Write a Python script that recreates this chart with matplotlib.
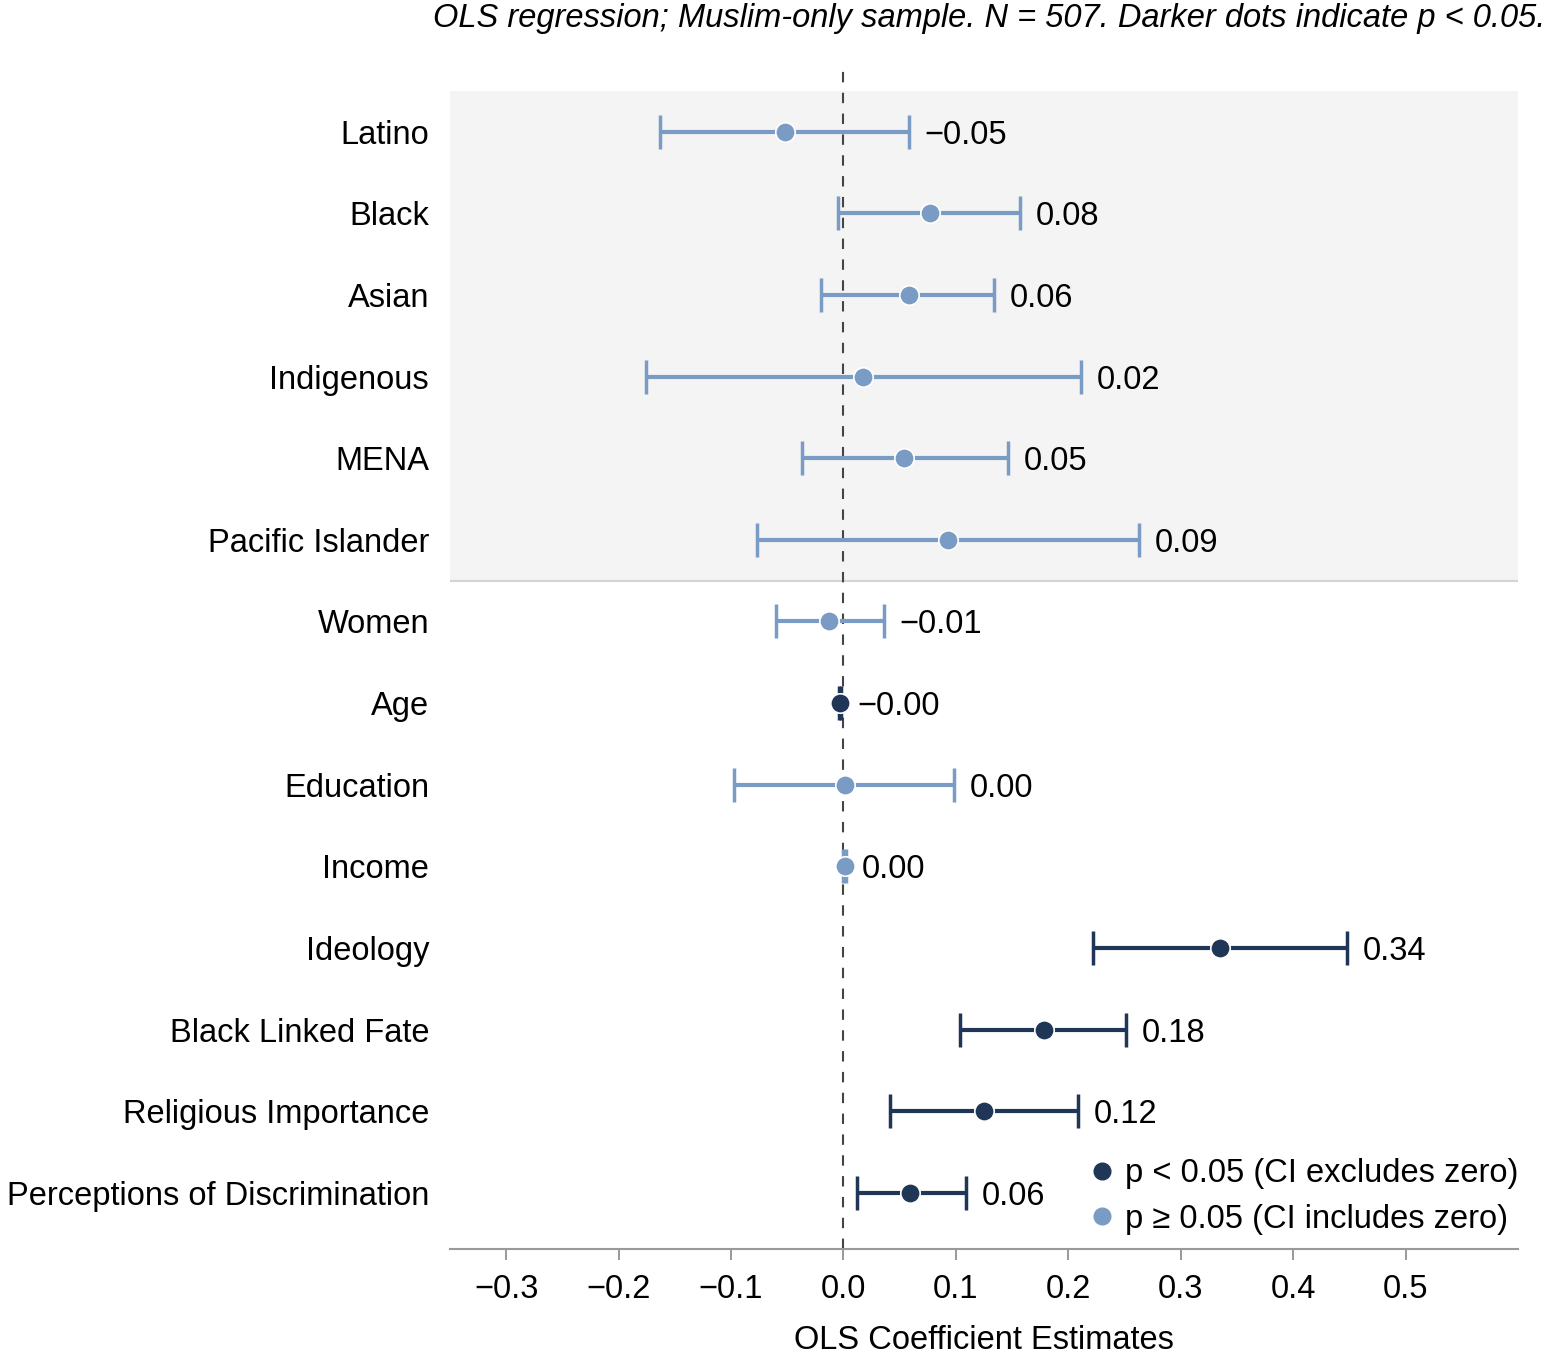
import numpy as np
import matplotlib
matplotlib.use('Agg')
import matplotlib.pyplot as plt
from matplotlib.lines import Line2D

plt.rcParams['font.family'] = ['Liberation Sans', 'DejaVu Sans']

# Coefficients and 95% CIs, top to bottom
labels = ['Latino', 'Black', 'Asian', 'Indigenous', 'MENA', 'Pacific Islander',
          'Women', 'Age', 'Education', 'Income', 'Ideology', 'Black Linked Fate',
          'Religious Importance', 'Perceptions of Discrimination']
coef = [-0.052, 0.077, 0.058, 0.017, 0.054, 0.093,
        -0.013, -0.003, 0.001, 0.001, 0.335, 0.178, 0.125, 0.059]
ci_low = [-0.163, -0.005, -0.020, -0.176, -0.037, -0.077,
          -0.060, -0.004, -0.097, 0.000, 0.222, 0.104, 0.041, 0.012]
ci_high = [0.058, 0.157, 0.134, 0.211, 0.146, 0.263,
           0.036, -0.002, 0.098, 0.002, 0.448, 0.251, 0.209, 0.109]
value_text = ['\u22120.05', '0.08', '0.06', '0.02', '0.05', '0.09',
              '\u22120.01', '\u22120.00', '0.00', '0.00', '0.34', '0.18', '0.12', '0.06']
significant = [False] * 7 + [True, False, False, True, True, True, True]

dark = '#1f3657'
light = '#7a9cc4'
fs = 23.5

fig = plt.figure(figsize=(15.46, 13.54), dpi=100)
ax = fig.add_axes([0.291, 0.0775, 0.691, 0.871])

ax.axhspan(-0.5, 5.5, color='#f4f4f4', zorder=0, lw=0)
ax.axhline(5.5, color='#d4d4d4', lw=1.5, zorder=1)
ax.axvline(0, color='#444444', lw=1.5, ls=(0, (5, 5)), zorder=2)

y = np.arange(len(labels))
for i in range(len(labels)):
    c = dark if significant[i] else light
    ax.errorbar(coef[i], y[i], xerr=[[coef[i] - ci_low[i]], [ci_high[i] - coef[i]]],
                fmt='none', ecolor=c, elinewidth=3, capsize=12, capthick=2.5, zorder=3)
    ax.plot(coef[i], y[i], 'o', color=c, ms=14, mec='white', mew=1.2, zorder=4)
    ax.text(max(ci_high[i], coef[i]) + 0.014, y[i], value_text[i], va='center_baseline',
            ha='left', fontsize=fs, color='black')

ax.set_xlim(-0.35, 0.60)
ax.set_ylim(13.69, -0.76)
ax.set_yticks(y)
ax.set_yticklabels(labels, fontsize=fs, va='center_baseline')
ticks = np.round(np.arange(-0.3, 0.51, 0.1), 1)
ax.set_xticks(ticks)
ax.set_xticklabels([('%.1f' % t).replace('-', '\u2212') for t in ticks], fontsize=fs)
ax.tick_params(axis='y', length=0, pad=15)
ax.tick_params(axis='x', length=8, width=1.2, color='#888888', pad=10)
for s in ['top', 'right', 'left']:
    ax.spines[s].set_visible(False)
ax.spines['bottom'].set_color('#999999')
ax.spines['bottom'].set_linewidth(1.5)
ax.set_xlabel('OLS Coefficient Estimates', fontsize=fs, labelpad=14)

handles = [Line2D([], [], ls='none', marker='o', color=dark, ms=12),
           Line2D([], [], ls='none', marker='o', color=light, ms=12)]
ax.legend(handles, ['p < 0.05 (CI excludes zero)', 'p \u2265 0.05 (CI includes zero)'],
          loc='lower right', bbox_to_anchor=(1.0, 0.012), frameon=False, fontsize=fs,
          handletextpad=0.2, handlelength=1.0, borderaxespad=0.0, borderpad=0.0,
          labelspacing=0.45)

fig.text(0.9995, 0.986, 'OLS regression; Muslim-only sample. N = 507. Darker dots indicate p < 0.05.',
         ha='right', va='center', fontsize=fs, style='italic')

fig.savefig('out.png', dpi=100)
